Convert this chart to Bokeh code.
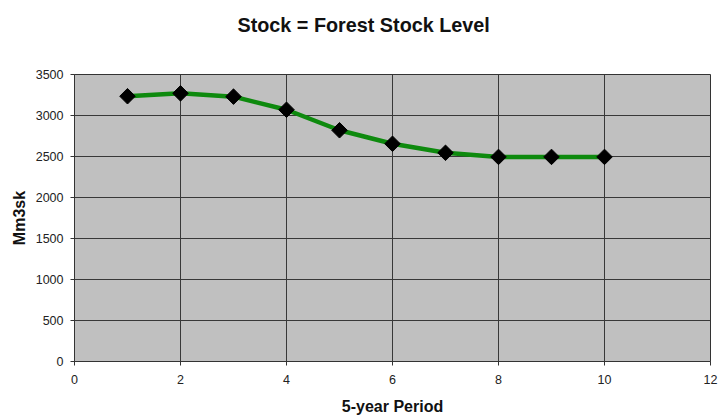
import math
from bokeh.plotting import figure
from bokeh.embed import file_html
from bokeh.resources import INLINE
from bokeh.models import FixedTicker, Range1d, ColumnDataSource, Title

title_text = "Stock = Forest Stock Level"
periods = [1, 2, 3, 4, 5, 6, 7, 8, 9, 10]
stock = [3235, 3270, 3230, 3070, 2820, 2655, 2545, 2495, 2495, 2495]
x_ticks = [0, 2, 4, 6, 8, 10, 12]
y_ticks = [0, 500, 1000, 1500, 2000, 2500, 3000, 3500]

src = ColumnDataSource(dict(x=periods, y=stock))

p = figure(width=718, height=417, output_backend="svg", toolbar_location=None,
           title=None,
           x_range=Range1d(0, 12), y_range=Range1d(0, 3500),
           min_border_left=74, min_border_right=8, min_border_top=74, min_border_bottom=54)

# spacer (closest to the frame), then the main title
p.add_layout(Title(text=" ", text_font_size="1px", standoff=36), "above")
p.add_layout(Title(text=title_text, align="left", offset=163, standoff=0,
                   text_font="Liberation Sans", text_font_size="19.8px",
                   text_font_style="bold", text_color="#111111"), "above")

p.background_fill_color = "#c0c0c0"
p.border_fill_color = "white"
p.outline_line_color = "#333333"
p.outline_line_width = 1

for ax in (p.xaxis, p.yaxis):
    ax.major_label_text_font = "Liberation Sans"
    ax.major_label_text_font_size = "12.5px"
    ax.major_label_text_color = "#222222"
    ax.axis_label_text_font = "Liberation Sans"
    ax.axis_label_text_font_size = "16px"
    ax.axis_label_text_font_style = "bold"
    ax.axis_label_text_color = "#111111"
    ax.axis_line_color = "#333333"
    ax.major_tick_line_color = "#333333"
    ax.major_tick_out = 4
    ax.major_tick_in = 0
    ax.minor_tick_line_color = None

p.xaxis.ticker = FixedTicker(ticks=x_ticks)
p.yaxis.ticker = FixedTicker(ticks=y_ticks)
p.xaxis.major_label_standoff = 9
p.xaxis.axis_label_standoff = 11
p.yaxis.major_label_standoff = 7
p.yaxis.axis_label_standoff = 5
p.xaxis.axis_label = "5-year Period"
p.yaxis.axis_label = "Mm3sk"

p.xgrid.ticker = FixedTicker(ticks=x_ticks)
p.ygrid.ticker = FixedTicker(ticks=y_ticks)
p.grid.grid_line_color = "#383838"
p.grid.grid_line_width = 1
p.grid.grid_line_alpha = 1

p.line("x", "y", source=src, line_color="#0e8a0e", line_width=4.5)
p.scatter("x", "y", source=src, marker="square", angle=math.pi / 4, size=11,
          fill_color="black", line_color="black")

open("out.html", "w").write(file_html(p, INLINE))
